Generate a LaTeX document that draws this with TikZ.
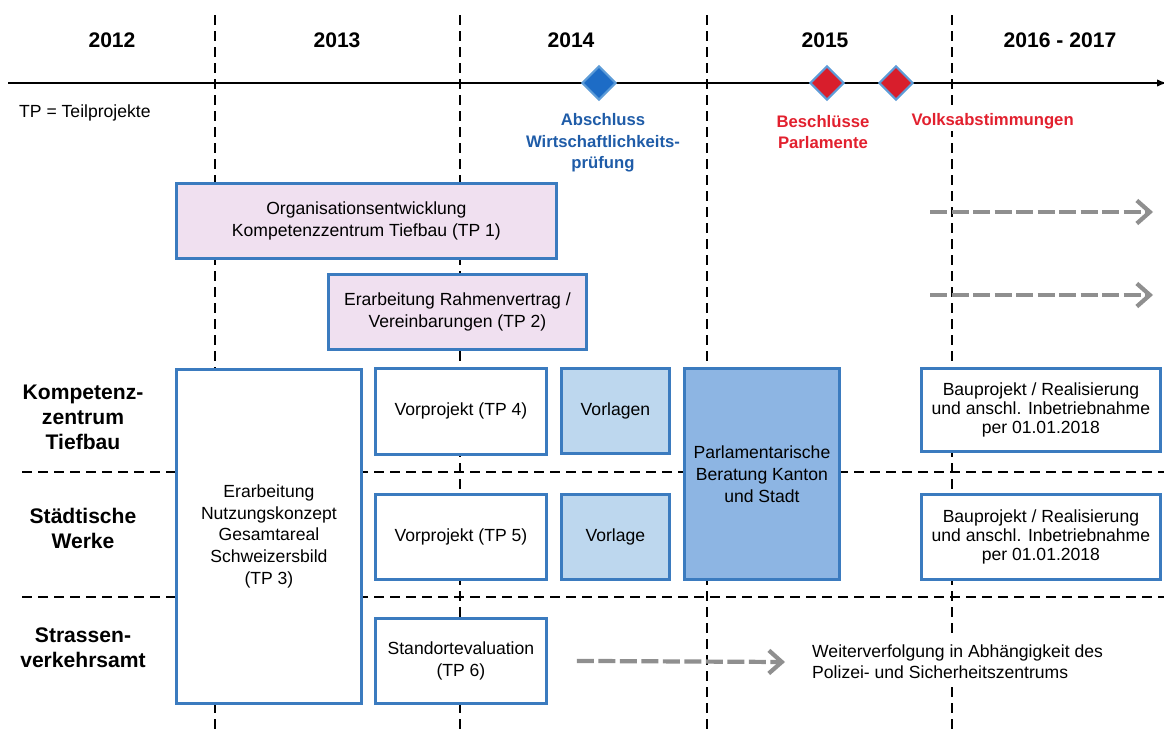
\documentclass[tikz,border=0pt]{standalone}
\usepackage{fontspec}
\setmainfont{Liberation Sans}
\usepackage{xcolor}
\usepackage{tikz}
\usetikzlibrary{
  arrows.meta,
  positioning,
  shapes.geometric
}
\definecolor{BoxBlue}{HTML}{3B7BBF}
\definecolor{TaskPink}{HTML}{F0E0F0}
\definecolor{DraftBlue}{HTML}{BDD7EE}
\definecolor{CouncilBlue}{HTML}{8DB5E3}
\definecolor{MileBlue}{HTML}{1D6CC6}
\definecolor{MileEdge}{HTML}{5D9CD8}
\definecolor{MileRed}{HTML}{D81E2C}
\definecolor{LabelBlue}{HTML}{1F5CA8}
\definecolor{LabelRed}{HTML}{E2202E}
\definecolor{PendingGray}{HTML}{8F8F8F}
\tikzset{
  task/.style={
    draw=BoxBlue,
    line width=1.6pt,
    align=center,
    anchor=north west,
    inner sep=2pt,
    font=\fontsize{10}{12.5}\selectfont
  },
  plaintask/.style={
    task,
    fill=white
  },
  orgtask/.style={
    task,
    fill=TaskPink
  },
  draft/.style={
    task,
    fill=DraftBlue
  },
  council/.style={
    task,
    fill=CouncilBlue
  },
  year/.style={
    font=\bfseries\fontsize{12}{14}\selectfont
  },
  unit/.style={
    align=center,
    font=\bfseries\fontsize{12}{14.2}\selectfont
  },
  milestone/.style={
    diamond,
    minimum size=6.8mm,
    inner sep=0pt,
    line width=1.2pt,
    draw=MileEdge
  },
  milelabel/.style={
    align=center,
    font=\bfseries\fontsize{9.5}{12.2}\selectfont
  },
  gridline/.style={
    line width=1pt,
    dash pattern=on 2mm off 1.2mm
  },
  timeline/.style={
    line width=1.2pt,
    -{Latex[length=2mm]}
  },
  pending/.style={
    draw=PendingGray,
    line width=2.4pt,
    dash pattern=on 3.4mm off 0.9mm,
    -{Straight Barb[length=2.6mm,width=4.6mm]}
  }
}

\begin{document}
\begin{tikzpicture}[
  x=0.2mm,
  y=-0.2mm
]

  \useasboundingbox (0,0) rectangle (1164,731);

  % years and time axis
  \node[year] (y2012) at (112,40) {2012};
  \node[year] (y2013) at (337,40) {2013};
  \node[year] (y2014) at (571,40) {2014};
  \node[year] (y2015) at (825,40) {2015};
  \node[year] (y2016) at (1060,40) {2016 - 2017};

  \coordinate (axis-start) at (8,83);
  \coordinate (axis-end) at (1167,83);
  \draw[timeline] (axis-start) -- (axis-end);

  \draw[gridline] (215,15) -- (215,731);
  \draw[gridline] (460,15) -- (460,731);
  \draw[gridline] (707,15) -- (707,731);
  \draw[gridline] (952,15) -- (952,731);

  \draw[gridline] (22,472) -- (1164,472);
  \draw[gridline] (22,597) -- (1164,597);

  % milestones
  \node[milestone, fill=MileBlue] (check) at (599,83) {};
  \node[milestone, fill=MileRed] (decision) at (827,83) {};
  \node[milestone, fill=MileRed] (vote) at (896,83) {};

  \node[milelabel, text=LabelBlue] (check-label) at (603,143) {
    Abschluss\\
    Wirtschaftlichkeits-\\
    prüfung
  };
  \node[milelabel, text=LabelRed] (decision-label) at (823,132) {
    Beschlüsse\\
    Parlamente
  };
  \node[
    milelabel,
    text=LabelRed,
    fill=white,
    inner sep=1pt
  ] (vote-label) at (995,121) {
    Volksabstimmungen
  };

  \node[
    anchor=west,
    font=\fontsize{10}{12}\selectfont
  ] (legend) at (13,113) {TP = Teilprojekte};

  % rows
  \node[unit] (tiefbau) at (83,417) {
    Kompetenz-\\
    zentrum\\
    Tiefbau
  };
  \node[unit] (werke) at (83,528) {
    Städtische\\
    Werke
  };
  \node[unit] (verkehr) at (83,648) {
    Strassen-\\
    verkehrsamt
  };

  % sub-projects
  \node[
    orgtask,
    minimum width=76mm,
    minimum height=15mm
  ] (tp1) at (175,182) {
    Organisationsentwicklung\\
    Kompetenzzentrum Tiefbau (TP 1)
  };

  \node[
    orgtask,
    minimum width=51.6mm,
    minimum height=15mm
  ] (tp2) at (327,273) {
    Erarbeitung Rahmenvertrag /\\
    Vereinbarungen (TP 2)
  };

  \node[
    plaintask,
    minimum width=37mm,
    minimum height=66.8mm
  ] (tp3) at (175,368) {
    Erarbeitung\\
    Nutzungskonzept\\
    Gesamtareal\\
    Schweizersbild\\
    (TP 3)
  };

  \node[
    plaintask,
    minimum width=34.2mm,
    minimum height=17.2mm
  ] (tp4) at (374,367) {Vorprojekt (TP 4)};

  \node[
    plaintask,
    minimum width=34.2mm,
    minimum height=17mm
  ] (tp5) at (374,493) {Vorprojekt (TP 5)};

  \node[
    plaintask,
    minimum width=34.2mm,
    minimum height=17mm
  ] (tp6) at (374,617) {
    Standortevaluation\\
    (TP 6)
  };

  \node[
    draft,
    minimum width=21.6mm,
    minimum height=17mm
  ] (vorlagen) at (560,367) {Vorlagen};

  \node[
    draft,
    minimum width=21.6mm,
    minimum height=17mm
  ] (vorlage) at (560,493) {Vorlage};

  \node[
    council,
    minimum width=31mm,
    minimum height=42.2mm
  ] (beratung) at (683,367) {
    Parlamentarische\\
    Beratung Kanton\\
    und Stadt
  };

  \node[
    plaintask,
    minimum width=47.8mm,
    minimum height=16.6mm,
    font=\fontsize{10}{11}\selectfont
  ] (bau1) at (920,367) {
    Bauprojekt / Realisierung\\
    und anschl. Inbetriebnahme\\
    per 01.01.2018
  };

  \node[
    plaintask,
    minimum width=47.8mm,
    minimum height=17mm,
    font=\fontsize{10}{11}\selectfont
  ] (bau2) at (920,493) {
    Bauprojekt / Realisierung\\
    und anschl. Inbetriebnahme\\
    per 01.01.2018
  };

  \node[
    anchor=west,
    align=left,
    fill=white,
    font=\fontsize{10}{12}\selectfont
  ] (followup) at (806,662) {
    Weiterverfolgung in Abhängigkeit des\\
    Polizei- und Sicherheitszentrums
  };

  % continuations
  \coordinate (cont1-start) at (930,212);
  \coordinate (cont1-end) at (1153,212);
  \coordinate (cont2-start) at (930,295);
  \coordinate (cont2-end) at (1153,295);

  \draw[pending] (cont1-start) -- (cont1-end);
  \draw[pending] (cont2-start) -- (cont2-end);
  \draw[pending] ([xshift=5.8mm]tp6.east) -- ([xshift=-4.2mm]followup.west);

\end{tikzpicture}
\end{document}
